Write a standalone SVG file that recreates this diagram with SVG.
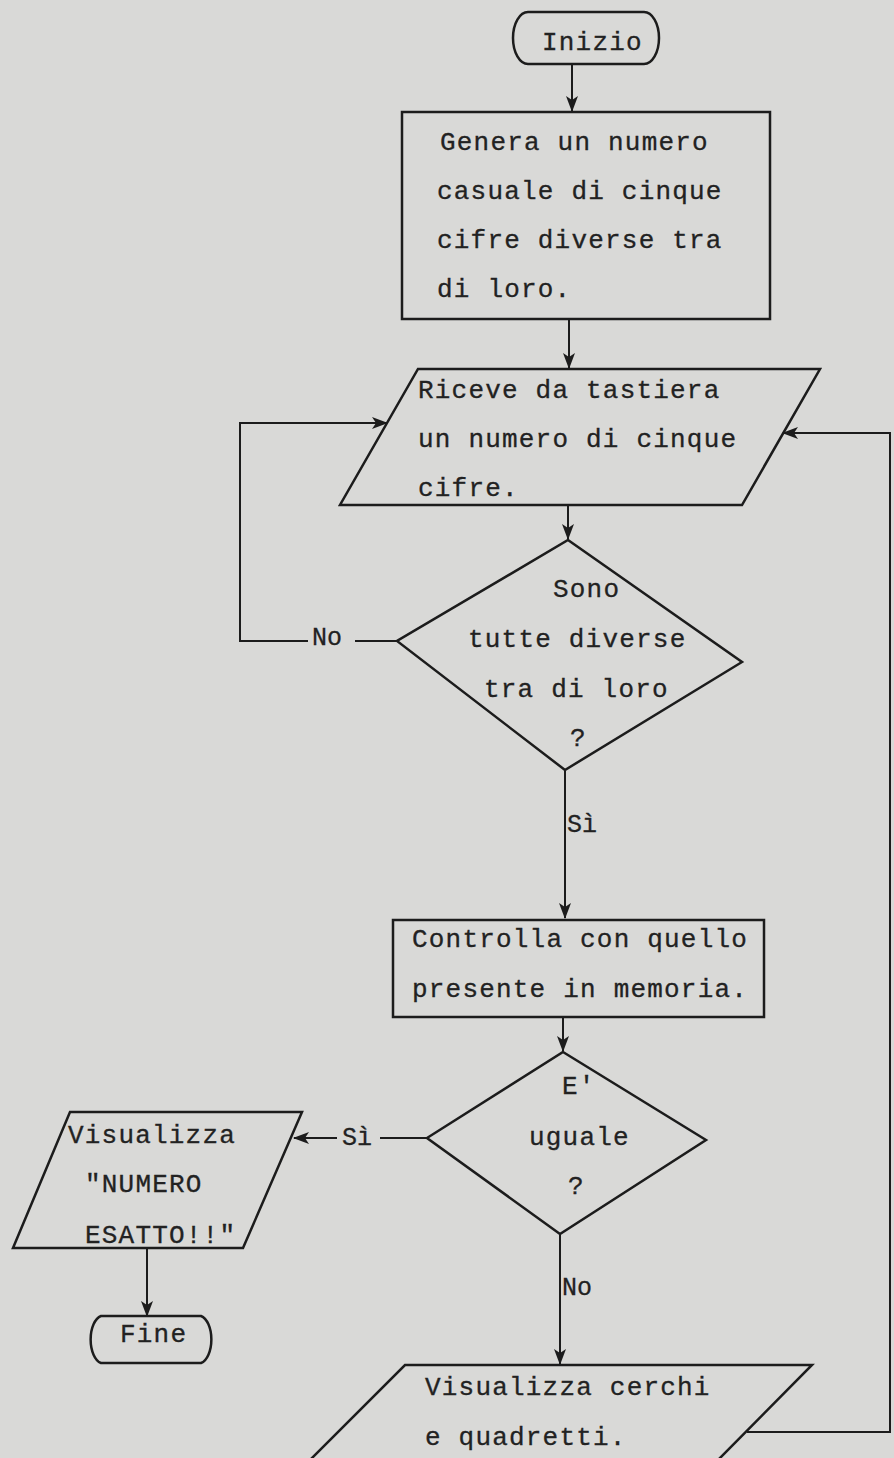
<svg xmlns="http://www.w3.org/2000/svg" width="894" height="1458" viewBox="0 0 894 1458">
<defs>
<marker id="ah" markerWidth="16" markerHeight="12" refX="15" refY="6" orient="auto" markerUnits="userSpaceOnUse">
<path d="M0,0 L16,6 L0,12 L4,6 Z" fill="#1c1c1c"/>
</marker>
</defs>
<style>
.bg{fill:#d9d9d7}
.shape{fill:none;stroke:#1c1c1c;stroke-width:2.5;stroke-linejoin:miter}
.line{fill:none;stroke:#1c1c1c;stroke-width:2}
.t{font-family:"Liberation Mono","DejaVu Sans Mono",monospace;font-size:26px;letter-spacing:1.2px;fill:#222;stroke:#222;stroke-width:0.3}
.s{font-family:"Liberation Mono","DejaVu Sans Mono",monospace;font-size:25px;fill:#222;stroke:#222;stroke-width:0.3}
</style>
<rect class="bg" x="0" y="0" width="894" height="1458"/>

<g id="connectors">
<line class="line" x1="572" y1="64" x2="572" y2="111" marker-end="url(#ah)"/>
<line class="line" x1="569" y1="320" x2="569" y2="368" marker-end="url(#ah)"/>
<line class="line" x1="568" y1="506" x2="568" y2="539" marker-end="url(#ah)" stroke="#555"/>
<polyline class="line" points="397,641 355,641"/>
<polyline class="line" points="308,641 240,641 240,423 387,423" marker-end="url(#ah)"/>
<line class="line" x1="565" y1="771" x2="565" y2="918" marker-end="url(#ah)"/>
<line class="line" x1="563" y1="1018" x2="563" y2="1051" marker-end="url(#ah)"/>
<polyline class="line" points="427,1138 380,1138"/>
<line class="line" x1="337" y1="1138" x2="294" y2="1138" marker-end="url(#ah)"/>
<line class="line" x1="147" y1="1249" x2="147" y2="1316" marker-end="url(#ah)"/>
<line class="line" x1="560" y1="1235" x2="560" y2="1364" marker-end="url(#ah)"/>
<polyline class="line" points="747,1432 890,1432 890,433 783,433" marker-end="url(#ah)"/>
<text class="s" x="312" y="645">No</text>
<text class="s" x="567" y="832">Sì</text>
<text class="s" x="342" y="1145">Sì</text>
<text class="s" x="562" y="1295">No</text>
</g>

<g id="inizio">
<path class="shape" d="M528,12 L644,12 A15,26 0 0 1 644,64 L528,64 A15,26 0 0 1 528,12 Z"/>
<text class="t" x="542" y="50">Inizio</text>
</g>

<g id="genera">
<rect class="shape" x="402" y="112" width="368" height="207"/>
<text class="t" x="440" y="150">Genera un numero</text>
<text class="t" x="437" y="199">casuale di cinque</text>
<text class="t" x="437" y="248">cifre diverse tra</text>
<text class="t" x="437" y="297">di loro.</text>
</g>

<g id="riceve">
<polygon class="shape" points="418,369 820,369 742,505 340,505"/>
<text class="t" x="418" y="398">Riceve da tastiera</text>
<text class="t" x="418" y="447">un numero di cinque</text>
<text class="t" x="418" y="496">cifre.</text>
</g>

<g id="diverse">
<polygon class="shape" points="568,540 742,662 565,770 397,641"/>
<text class="t" x="553" y="597">Sono</text>
<text class="t" x="468" y="647">tutte diverse</text>
<text class="t" x="484" y="697">tra di loro</text>
<text class="t" x="570" y="746">?</text>
</g>

<g id="controlla">
<rect class="shape" x="393" y="920" width="371" height="97"/>
<text class="t" x="412" y="947">Controlla con quello</text>
<text class="t" x="412" y="997">presente in memoria.</text>
</g>

<g id="uguale">
<polygon class="shape" points="563,1052 706,1140 560,1234 427,1138"/>
<text class="t" x="562" y="1094">E'</text>
<text class="t" x="529" y="1145">uguale</text>
<text class="t" x="568" y="1194">?</text>
</g>

<g id="esatto">
<polygon class="shape" points="70,1112 302,1112 243,1248 13,1248"/>
<text class="t" x="68" y="1143">Visualizza</text>
<text class="t" x="85" y="1192">"NUMERO</text>
<text class="t" x="85" y="1243">ESATTO!!"</text>
</g>

<g id="fine">
<path class="shape" d="M101,1316 L201,1316 A13,24 0 0 1 201,1363 L101,1363 A13,24 0 0 1 101,1316 Z"/>
<text class="t" x="120" y="1342">Fine</text>
</g>

<g id="cerchi">
<polygon class="shape" points="405,1365 812,1365 718,1460 310,1460"/>
<text class="t" x="425" y="1395">Visualizza cerchi</text>
<text class="t" x="425" y="1445">e quadretti.</text>
</g>
</svg>
